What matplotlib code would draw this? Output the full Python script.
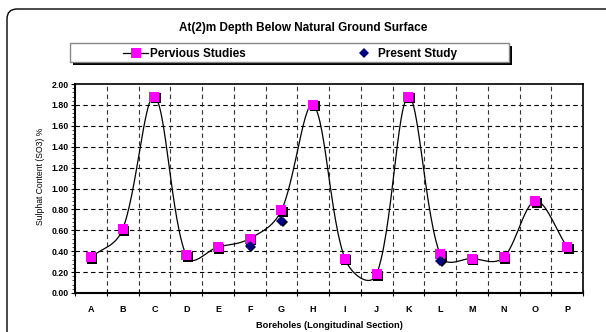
import numpy as np
import matplotlib
matplotlib.use("Agg")
import matplotlib.pyplot as plt
import matplotlib.patches as patches
from matplotlib.lines import Line2D
from matplotlib import transforms

plt.rcParams['font.family'] = ['Liberation Sans', 'DejaVu Sans']

# data
boreholes = ['A', 'B', 'C', 'D', 'E', 'F', 'G', 'H', 'I', 'J', 'K', 'L', 'M', 'N', 'O', 'P']
previous = [0.34, 0.61, 1.88, 0.36, 0.44, 0.52, 0.79, 1.80, 0.33, 0.18, 1.88, 0.37, 0.33, 0.34, 0.88, 0.44]
present_idx = ['F', 'G', 'L']
present = [0.45, 0.69, 0.31]

title = 'At(2)m Depth Below Natural Ground Surface'
xlabel = 'Boreholes (Longitudinal Section)'
ylabel = 'Sulphat Content (SO3) %'
legend_labels = ['Pervious Studies', 'Present Study']


def smooth(x, y, yscale=1.5, n=30):
    # excel-like smoothed line: bezier segments, handles scaled by segment length
    pts = np.column_stack([x, y]).astype(float)
    pts = np.vstack([pts[0], pts, pts[-1]])
    sc = np.array([1.0, yscale])
    t = np.linspace(0, 1, n)[:, None]
    xs, ys = [], []
    for i in range(1, len(pts) - 2):
        p0, p1, p2, p3 = pts[i - 1], pts[i], pts[i + 1], pts[i + 2]
        d01 = np.linalg.norm((p1 - p0) * sc)
        d12 = np.linalg.norm((p2 - p1) * sc)
        d23 = np.linalg.norm((p3 - p2) * sc)
        f1 = d12 / (d01 + d12) / 3 if d01 + d12 > 0 else 0
        f2 = d12 / (d12 + d23) / 3 if d12 + d23 > 0 else 0
        c1 = p1 + (p2 - p0) * f1
        c2 = p2 - (p3 - p1) * f2
        b = (1 - t) ** 3 * p1 + 3 * (1 - t) ** 2 * t * c1 + 3 * (1 - t) * t ** 2 * c2 + t ** 3 * p2
        xs.extend(b[:, 0])
        ys.extend(b[:, 1])
    return np.array(xs), np.array(ys)


fig = plt.figure(figsize=(6.06, 3.32), dpi=100)
ax = fig.add_axes([75 / 606, 39 / 332, 508 / 606, 209 / 332])

x = np.arange(len(boreholes))
sx, sy = smooth(x, previous)
ax.plot(sx, sy, color='black', lw=0.9, zorder=3)

shadow = transforms.offset_copy(ax.transData, fig=fig, x=1.5, y=-1.5, units='dots')
ax.plot(x, previous, 's', color='black', ms=6.5, mew=0, transform=shadow, zorder=4)
ax.plot(x, previous, 's', color='#ff00ff', ms=6.5, mew=0, zorder=5)

px = [boreholes.index(b) for b in present_idx]
ax.plot(px, present, 'D', color='black', ms=5.5, mew=0, transform=shadow, zorder=6)
ax.plot(px, present, 'D', color='#000080', ms=5.5, mew=0, zorder=7)

ax.set_xlim(-0.5, len(boreholes) - 0.5)
ax.set_ylim(0, 2)
ax.set_yticks(np.arange(0, 2.01, 0.2))
ax.set_yticklabels(['%.2f' % v for v in np.arange(0, 2.01, 0.2)])
ax.set_yticks(np.arange(0, 2.01, 0.04), minor=True)
ax.set_xticks(np.arange(-0.5, len(boreholes), 1.0))
ax.set_xticklabels([])
ax.set_xticks(x, minor=True)
ax.set_xticklabels(boreholes, minor=True)

ax.tick_params(axis='x', which='major', direction='inout', length=5, width=0.8)
ax.tick_params(axis='x', which='minor', length=0, pad=9, labelsize=6.5)
ax.tick_params(axis='y', which='major', direction='out', length=3, width=0.8, pad=1.5, labelsize=6.3)
ax.tick_params(axis='y', which='minor', direction='out', length=2, width=0.5)
for lab in ax.get_xticklabels(minor=True) + ax.get_yticklabels():
    lab.set_fontweight('bold')

for v in np.arange(0.2, 1.81, 0.2):
    ax.axhline(v, color='black', lw=0.8, ls=(0, (4, 3)), zorder=1)
for v in np.arange(0.5, len(boreholes) - 1, 1.0):
    ax.axvline(v, color='#333333', lw=0.8, ls=(0, (4, 3)), zorder=1)

for s in ax.spines.values():
    s.set_linewidth(1.2)
ax.spines['bottom'].set_linewidth(1.5)
ax.spines['left'].set_linewidth(1.5)

ax.set_xlabel(xlabel, fontsize=6.7, fontweight='bold', labelpad=5)
ax.set_ylabel(ylabel, fontsize=6.2)
ax.yaxis.set_label_coords(-0.06, 0.56)

fig.text(0.5, 1 - 28 / 332, title, ha='center', va='center', fontsize=8.5, fontweight='bold')

# outer rounded frame
frame = patches.FancyBboxPatch((7, -30), 640, 332 - 9 + 30,
                               boxstyle='round,pad=0,rounding_size=10',
                               transform=None, fill=False, ec='black', lw=1.0)
fig.add_artist(frame)

# legend box with shadow
lx0, ly0, lw_, lh = 70, 332 - 62, 439, 19
fig.add_artist(patches.Rectangle((lx0 + 3, ly0 - 3), lw_, lh, transform=None,
                                 fc='black', ec='none', zorder=10))
fig.add_artist(patches.Rectangle((lx0, ly0), lw_, lh, transform=None,
                                 fc='white', ec='#888888', lw=1.0, zorder=11))
ymid = ly0 + lh / 2
fig.add_artist(Line2D([123, 148], [ymid, ymid], transform=None, color='black', lw=0.9, zorder=12))
fig.add_artist(Line2D([135.5], [ymid], transform=None, marker='s', ms=6.5, mew=0,
                      color='#ff00ff', zorder=13))
fig.add_artist(Line2D([364], [ymid], transform=None, marker='D', ms=5, mew=0,
                      color='#000080', zorder=13))
fig.text(150 / 606, ymid / 332, legend_labels[0], ha='left', va='center_baseline',
         fontsize=8.5, fontweight='bold', zorder=13)
fig.text(378 / 606, ymid / 332, legend_labels[1], ha='left', va='center_baseline',
         fontsize=8.5, fontweight='bold', zorder=13)

fig.savefig('out.png', dpi=100)
